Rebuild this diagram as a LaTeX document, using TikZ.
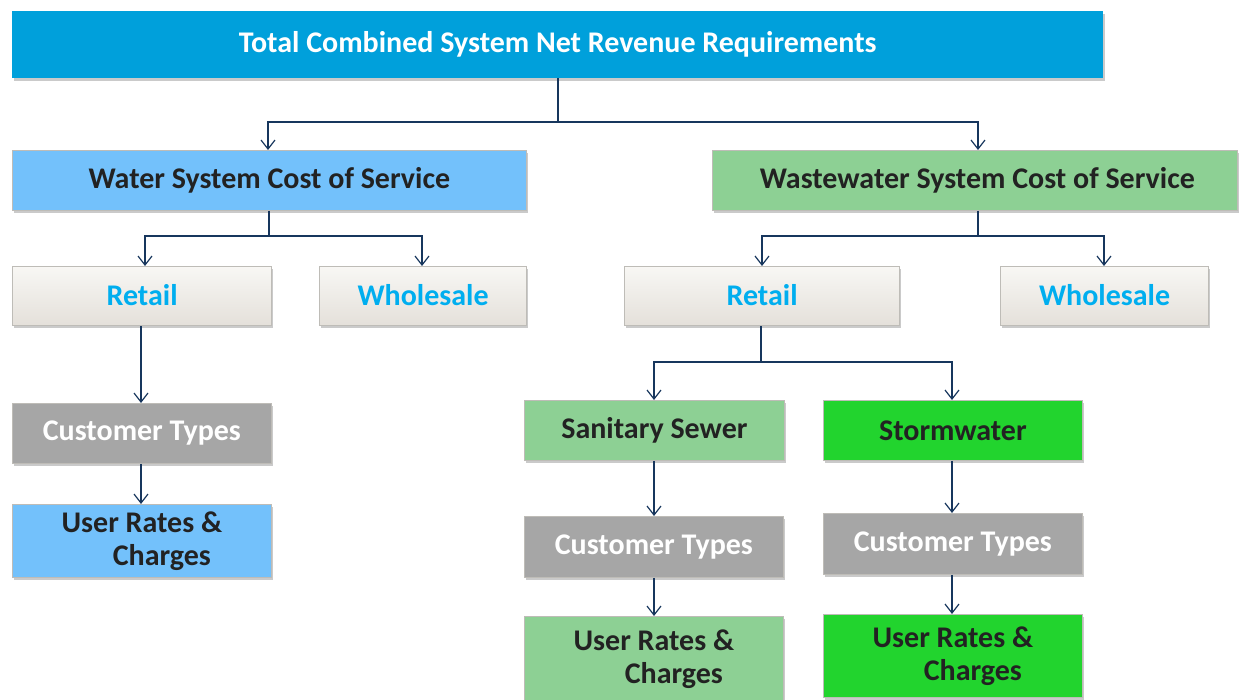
\documentclass[tikz,border=0pt]{standalone}
\usepackage{fontspec}
\setmainfont{Carlito}
\usetikzlibrary{arrows.meta,shadows}
\definecolor{topblue}{RGB}{0,160,219}
\definecolor{ltblue}{RGB}{115,193,251}
\definecolor{ltgreen}{RGB}{141,208,148}
\definecolor{brgreen}{RGB}{34,212,46}
\definecolor{midgray}{RGB}{166,166,166}
\definecolor{darktext}{RGB}{34,34,34}
\definecolor{cyantext}{RGB}{0,174,239}
\definecolor{navy}{RGB}{23,54,93}
\definecolor{gradtop}{RGB}{248,247,244}
\definecolor{gradbot}{RGB}{228,224,218}
\definecolor{bordergray}{RGB}{190,188,183}
\tikzset{
  box/.style={anchor=north west, inner sep=0pt, align=center,
    font=\fontsize{30}{33}\selectfont\bfseries,
    drop shadow={shadow xshift=1.5pt, shadow yshift=-2.5pt, opacity=0.35, fill=black!60}},
  bluebox/.style={box, fill=ltblue, draw=bordergray, line width=0.8pt, text=darktext},
  greenbox/.style={box, fill=ltgreen, draw=bordergray, line width=0.8pt, text=darktext},
  brightbox/.style={box, fill=brgreen, draw=bordergray, line width=0.8pt, text=darktext},
  graybox/.style={box, fill=midgray, draw=bordergray, line width=0.8pt, text=white},
  gradbox/.style={box, top color=gradtop, bottom color=gradbot, draw=bordergray, line width=1.2pt, text=cyantext},
  conn/.style={draw=navy, line width=1.3pt, -{Straight Barb[length=9pt,width=14pt,line width=1.2pt]}},
  seg/.style={draw=navy, line width=1.3pt}
}
\begin{document}
\begin{tikzpicture}[x=1pt,y=-1pt]
\useasboundingbox (0,0) rectangle (1241,700);
% boxes
\node[box, fill=topblue, text=white, minimum width=1091pt, minimum height=67pt] (top) at (12,11) {Total Combined System Net Revenue Requirements};
\node[bluebox, minimum width=514pt, minimum height=60pt] (water) at (12,150) {Water System Cost of Service};
\node[greenbox, minimum width=525pt, minimum height=60pt] (ww) at (712,150) {\hspace*{5pt}Wastewater System Cost of Service};
\node[gradbox, minimum width=259pt, minimum height=59pt] (wret) at (12,266) {\raisebox{2pt}{Retail}};
\node[gradbox, minimum width=207pt, minimum height=59pt] (wwhole) at (319,266) {\raisebox{2pt}{Wholesale}};
\node[gradbox, minimum width=275pt, minimum height=59pt] (wwret) at (624,266) {\raisebox{2pt}{Retail}};
\node[gradbox, minimum width=208pt, minimum height=59pt] (wwwhole) at (1000,266) {\raisebox{2pt}{Wholesale}};
\node[graybox, minimum width=259pt, minimum height=60pt] (wct) at (12,403) {Customer Types};
\node[bluebox, minimum width=259pt, minimum height=73pt] (wur) at (12,504) {User Rates \&\\\hspace*{40pt}Charges};
\node[greenbox, minimum width=260pt, minimum height=60pt] (ss) at (524,400) {Sanitary Sewer};
\node[brightbox, minimum width=259pt, minimum height=60pt] (sw) at (823,400) {Stormwater};
\node[graybox, minimum width=259pt, minimum height=61pt] (ssct) at (524,516) {Customer Types};
\node[graybox, minimum width=259pt, minimum height=61pt] (swct) at (823,513) {Customer Types};
\node[greenbox, minimum width=259pt, minimum height=86pt] (ssur) at (524,616) {User Rates \&\\\hspace*{40pt}Charges};
\node[brightbox, minimum width=259pt, minimum height=83pt] (swur) at (823,614) {User Rates \&\\\hspace*{40pt}Charges};
% connectors
\coordinate (j1) at (558,122);
\draw[seg] (top.south -| j1) -- (j1);
\draw[conn] (j1) -| (268,150);
\draw[conn] (j1) -| (978,150);
\coordinate (j2) at (269,236);
\draw[seg] (water.south -| j2) -- (j2);
\draw[conn] (j2) -| (wret.north -| 145,0);
\draw[conn] (j2) -| (wwhole.north -| 422,0);
\coordinate (j3) at (978,236);
\draw[seg] (ww.south -| j3) -- (j3);
\draw[conn] (j3) -| (wwret.north -| 762,0);
\draw[conn] (j3) -| (wwwhole.north -| 1104,0);
\draw[conn] (wret.south -| 141,0) -- (wct.north -| 141,0);
\draw[conn] (wct.south -| 141,0) -- (wur.north -| 141,0);
\coordinate (j4) at (761,362);
\draw[seg] (wwret.south -| j4) -- (j4);
\draw[conn] (j4) -| (ss.north -| 654,0);
\draw[conn] (j4) -| (sw.north -| 952,0);
\draw[conn] (ss.south -| 654,0) -- (ssct.north -| 654,0);
\draw[conn] (ssct.south -| 654,0) -- (ssur.north -| 654,0);
\draw[conn] (sw.south -| 952,0) -- (swct.north -| 952,0);
\draw[conn] (swct.south -| 952,0) -- (swur.north -| 952,0);
\end{tikzpicture}
\end{document}
